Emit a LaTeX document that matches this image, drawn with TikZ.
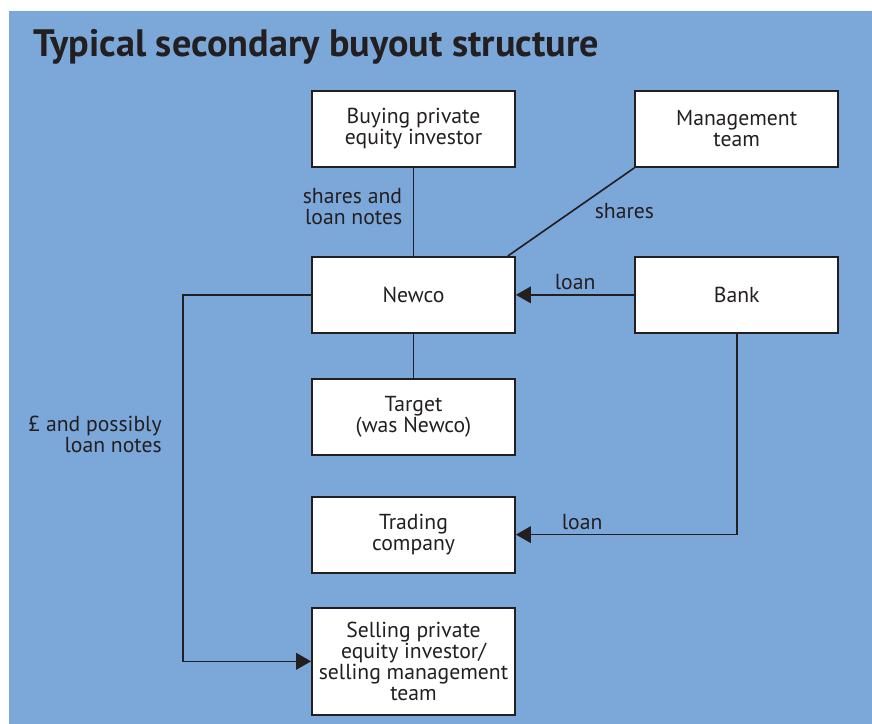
\documentclass[tikz,border=0pt]{standalone}
\usepackage{fontspec}
\setmainfont{PT Sans}
\usetikzlibrary{arrows.meta, positioning, calc}
\definecolor{panelblue}{RGB}{123,167,217}
\definecolor{inkdark}{RGB}{35,31,32}

\begin{document}
\begin{tikzpicture}[
        node distance=2.64cm and 3.55cm,
        party/.style={rectangle, draw=inkdark, fill=white, line width=1.6pt, minimum width=6.09cm, minimum height=2.28cm, align=center, inner sep=2pt, text=inkdark, font=\fontsize{18.5}{18}\selectfont},
        tag/.style={text=inkdark, align=right, font=\fontsize{18.5}{18}\selectfont},
        flow/.style={draw=inkdark, line width=1.4pt},
        arrow/.style={flow, -{Triangle[length=0.45cm, width=0.5cm]}}
    ]
        % Panel
        \useasboundingbox (0,0) rectangle (26.16,21.72);
        \fill[panelblue] (0.27,0) rectangle (26.16,21.39);
        \node[anchor=base west, inner sep=0pt, text=inkdark, font=\fontsize{32.6}{36}\selectfont\bfseries] (title) at (1.0,20.01) {Typical secondary buyout structure};

        % Nodes
        \node[party] (buying) at (12.405,17.85) {Buying private\\equity investor};
        \node[party, right=of buying] (management) {Management\\team};
        \node[party, below=of buying] (newco) {Newco};
        \node[party, right=of newco] (bank) {Bank};
        \node[party, below=1.32cm of newco] (target) {Target\\(was Newco)};
        \node[party, below=1.2cm of target] (trading) {Trading\\company};
        \node[party, below=1.0cm of trading, minimum height=3.21cm] (selling) {Selling private\\equity investor/\\selling management\\team};

        % Paths
        \draw[flow] (buying) -- (newco) node[midway, tag, left=0.2cm, yshift=0.15cm] {shares and\\loan notes};
        \draw[flow] (management.south west) -- ($(newco.north east)+(-0.24,0)$) node[pos=0.35, below right, tag] {shares};
        \draw[arrow] (bank) -- (newco) node[midway, above, tag] {loan};
        \draw[flow] (newco) -- (target);
        \draw[arrow] (bank.south) |- (trading.east) node[pos=0.85, above, tag] {loan};
        \coordinate (rail) at ($(newco.west)+(-3.84,0)$);
        \draw[arrow] (newco.west) -- (rail) |- (selling.west) node[pos=0.19, tag, left=0.5cm] {£ and possibly\\loan notes};

    \end{tikzpicture}
\end{document}
